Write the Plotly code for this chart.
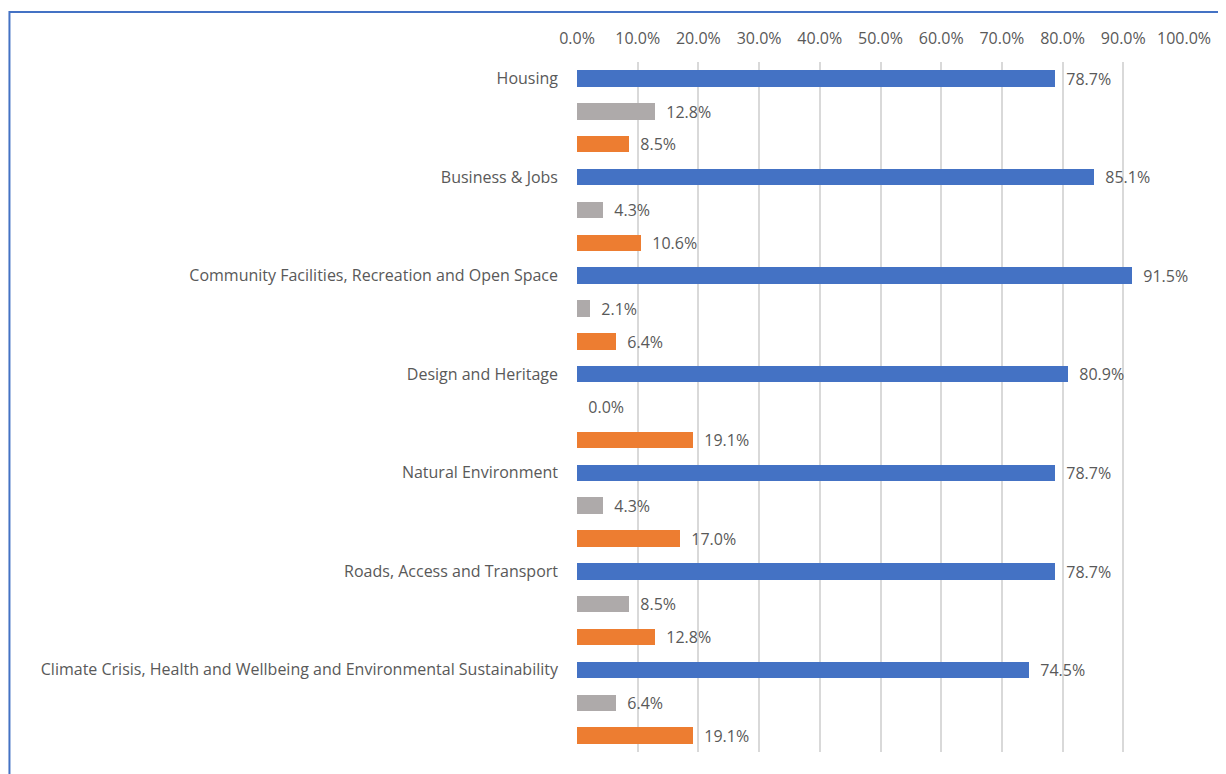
import plotly.graph_objects as go

categories = [
    "Housing",
    "Business & Jobs",
    "Community Facilities, Recreation and Open Space",
    "Design and Heritage",
    "Natural Environment",
    "Roads, Access and Transport",
    "Climate Crisis, Health and Wellbeing and Environmental Sustainability",
]
series_names = ["Series 1", "Series 2", "Series 3"]
series_blue = [78.7, 85.1, 91.5, 80.9, 78.7, 78.7, 74.5]
series_gray = [12.8, 4.3, 2.1, 0.0, 4.3, 8.5, 6.4]
series_orange = [8.5, 10.6, 6.4, 19.1, 17.0, 12.8, 19.1]
colors = ["#4472C4", "#AEAAAA", "#ED7D31"]
x_ticks = [0, 10, 20, 30, 40, 50, 60, 70, 80, 90, 100]

FONT = "'Open Sans', Lato, sans-serif"
TXT = "#595959"
FS = 16

fig = go.Figure()
for j, (name, vals) in enumerate(zip(series_names, [series_blue, series_gray, series_orange])):
    ys = [3 * i + j for i in range(len(categories))]
    fig.add_trace(go.Bar(
        x=[v / 100 for v in vals],
        y=ys,
        orientation="h",
        name=name,
        marker=dict(color=colors[j], line=dict(width=0)),
        width=0.5,
        text=["\u00a0\u00a0" + f"{v:.1f}%" for v in vals],
        textposition="outside",
        constraintext="none",
        textfont=dict(family=FONT, size=FS, color=TXT),
        cliponaxis=False,
        showlegend=False,
    ))

fig.update_layout(
    width=1218, height=766,
    margin=dict(l=569, r=42, t=54, b=22),
    paper_bgcolor="white", plot_bgcolor="white",
    font=dict(family=FONT, size=FS, color=TXT),
    bargap=0,
)
fig.update_xaxes(
    side="top", range=[0, 1.0], tickvals=[t / 100 for t in x_ticks],
    ticktext=[f"{t:.1f}%" for t in x_ticks],
    showgrid=True, gridcolor="#D9D9D9", gridwidth=1.5,
    zeroline=False, showline=False, ticks="", ticklabelstandoff=14,
    tickfont=dict(family=FONT, size=FS, color=TXT),
)
fig.update_yaxes(
    range=[20.5, -0.5], tickvals=[3 * i for i in range(len(categories))],
    ticktext=categories, showgrid=False, zeroline=False, showline=False,
    ticks="", ticklabelstandoff=18,
    tickfont=dict(family=FONT, size=FS, color=TXT),
)
# outer frame (partially visible, as in the reference)
fig.add_shape(type="rect", xref="paper", yref="paper",
              x0=-0.935, x1=1.2, y0=-0.2, y1=1.0725,
              line=dict(color="#4472C4", width=2))
fig.write_html("out.html")
